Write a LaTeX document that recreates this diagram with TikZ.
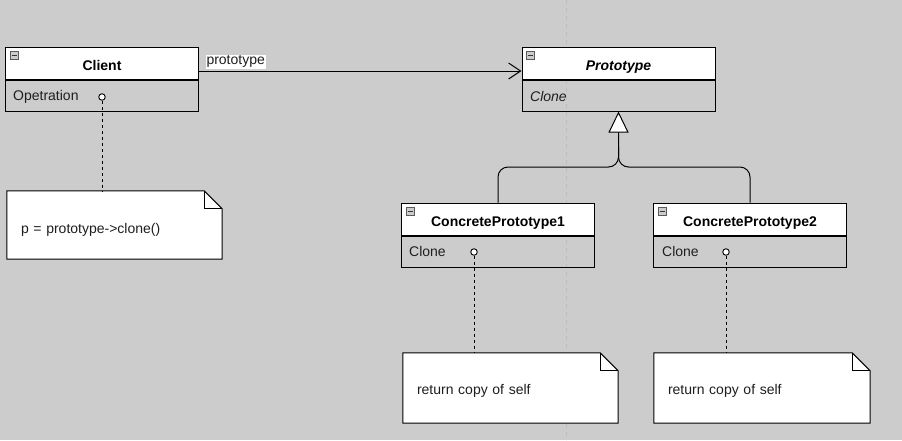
\documentclass[tikz,border=0pt]{standalone}
\usepackage{fontspec}
\setmainfont{Liberation Sans}
\usetikzlibrary{arrows.meta,calc}
\definecolor{bg}{RGB}{204,204,204}
\definecolor{guide}{RGB}{190,190,190}
\definecolor{txt}{RGB}{30,30,30}
\tikzset{
  head/.style={draw=black, fill=white, line width=1pt, minimum width=193pt, minimum height=32pt, inner sep=0pt, text height=14pt, text depth=0pt, font=\fontsize{14}{16}\selectfont\bfseries},
  body/.style={draw=black, line width=1pt, minimum width=193pt, minimum height=31pt, inner sep=0pt},
  member/.style={anchor=west, inner sep=0pt, text=txt, font=\fontsize{14}{16}\selectfont},
  lolli/.style={circle, draw=black, fill=white, line width=0.9pt, minimum size=6.5pt, inner sep=0pt},
  notebox/.style={minimum width=#1, minimum height=69pt, inner xsep=14pt, inner ysep=0pt, text width=#1-28pt, align=left, text=txt, font=\fontsize{14}{16}\selectfont},
  dashline/.style={line width=1pt, dash pattern=on 3pt off 3pt},
  conn/.style={line width=1pt},
}
\newcommand{\minusicon}[1]{%
  \fill[gray!40] ($(#1.north west)+(5,5)$) rectangle ++(8,8);
  \draw[gray!70!black, line width=0.6pt] ($(#1.north west)+(5,5)$) rectangle ++(8,8);
  \draw[black!80, line width=1.4pt] ($(#1.north west)+(6.5,9)$) -- ++(5,0);
}
\newcommand{\drawnote}[1]{%
  \draw[fill=white, line width=1pt] (#1.north west) -- ($(#1.north east)+(-18,0)$) -- ($(#1.north east)+(0,18)$) -- (#1.south east) -- (#1.south west) -- cycle;
  \draw[line width=1pt] ($(#1.north east)+(-18,0)$) -- ($(#1.north east)+(-18,18)$) -- ($(#1.north east)+(0,18)$);
}
\begin{document}
\begin{tikzpicture}[x=1pt,y=-1pt]
\fill[bg] (0,0) rectangle (902,440);
\useasboundingbox (0,0) rectangle (902,440);
\draw[guide, line width=0.8pt, dash pattern=on 4pt off 4pt] (566,0) -- (566,440);

% Client
\node[head] (clienthead) at (102,63) {Client};
\node[body, anchor=north] (clientbody) at (clienthead.south) {};
\minusicon{clienthead}
\node[member] (clientop) at (13,96.5) {Opetration};
\node[lolli] (clientpin) at (102,97) {};

% Prototype
\node[head, font=\fontsize{14}{16}\selectfont\bfseries\itshape] (protohead) at (618.5,63) {Prototype};
\node[body, anchor=north] (protobody) at (protohead.south) {};
\minusicon{protohead}
\node[member, font=\fontsize{14}{16}\selectfont\itshape] (protoop) at (530,96) {Clone};

% ConcretePrototype1
\node[head] (cp1head) at (498,219) {ConcretePrototype1};
\node[body, anchor=north] (cp1body) at (cp1head.south) {};
\minusicon{cp1head}
\node[member] (cp1op) at (409,251) {Clone};
\node[lolli] (cp1pin) at (474,252) {};

% ConcretePrototype2
\node[head] (cp2head) at (750,219) {ConcretePrototype2};
\node[body, anchor=north] (cp2body) at (cp2head.south) {};
\minusicon{cp2head}
\node[member] (cp2op) at (662,251) {Clone};
\node[lolli] (cp2pin) at (726,252) {};

% Notes
\node[notebox=215pt, minimum height=68pt] (note1) at (114.5,225) {};
\drawnote{note1}
\node[notebox=215pt, minimum height=68pt, yshift=-5pt] at (note1) {p = prototype->clone()};
\node[notebox=215pt, minimum height=70pt] (note2) at (510.5,388) {};
\drawnote{note2}
\node[notebox=215pt, minimum height=70pt, yshift=-3pt] at (note2) {return copy of self};
\node[notebox=216pt, minimum height=70pt] (note3) at (762,388) {};
\drawnote{note3}
\node[notebox=216pt, minimum height=70pt, yshift=-3pt] at (note3) {return copy of self};

% note links
\draw[dashline] (clientpin.south) -- (clientpin.south |- note1.north);
\draw[dashline] (cp1pin.south) -- (cp1pin.south |- note2.north);
\draw[dashline] (cp2pin.south) -- (cp2pin.south |- note3.north);

% association
\draw[conn, -{Straight Barb[length=12pt,width=16pt,line width=1pt]}] ([yshift=-8pt]clienthead.east) -- node[at start, anchor=south west, fill=white, inner sep=1pt, xshift=6pt, yshift=2pt, text=txt, font=\fontsize{14}{16}\selectfont] (assoclabel) {prototype} ([yshift=-8pt]protohead.west);

% generalization
\coordinate (junction) at (618.5,167);
\draw[conn, rounded corners=10pt, -{Triangle[open, length=21pt, width=20pt, line width=1pt, fill=white]}] (cp1head.north) |- (junction) -- (protobody.south);
\draw[conn, rounded corners=10pt] (cp2head.north) |- (junction) -- ++(0,-20);
\end{tikzpicture}
\end{document}
